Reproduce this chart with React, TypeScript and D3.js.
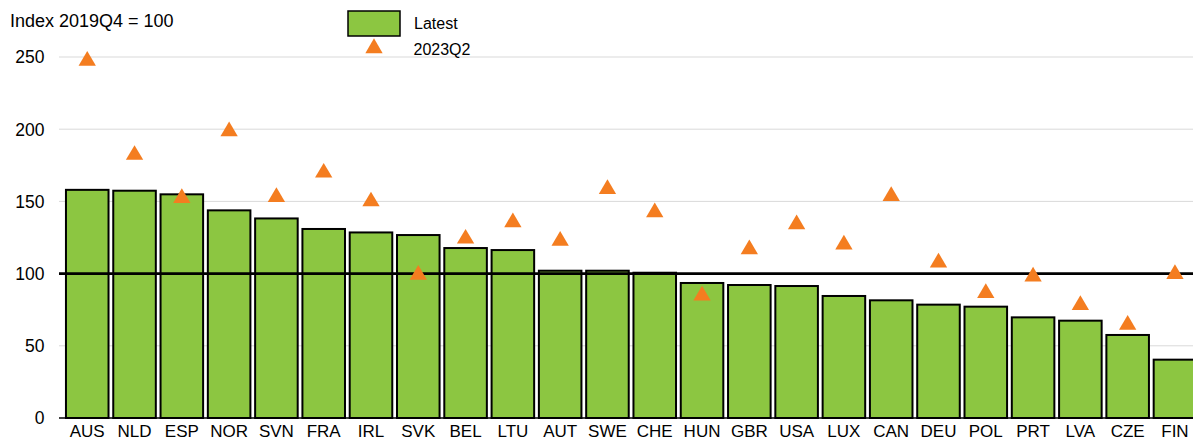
import React from "react";
import * as d3 from "d3";

const categories = ["AUS","NLD","ESP","NOR","SVN","FRA","IRL","SVK","BEL","LTU","AUT","SWE","CHE","HUN","GBR","USA","LUX","CAN","DEU","POL","PRT","LVA","CZE","FIN"];
const latest = [158,157.4,154.9,143.8,138.2,130.9,128.5,126.7,117.7,116.3,102,102,100.6,93.5,92.1,91.4,84.5,81.5,78.5,77.1,69.7,67.4,57.5,40.4];
const q2023 = [248.2,183,153.2,199.3,153.8,170.7,150.8,100,125,136.4,123.5,159.4,143.3,85.6,117.6,135,121,154.5,108.5,87.4,98.8,79,65.3,100.5];
const yTicks = [0,50,100,150,200,250];
const legendLabels = ["Latest","2023Q2"];
const yTitle = "Index 2019Q4 = 100";

const W = 1193, H = 440;
const GREEN = "#8CC641";
const ORANGE = "#F47D20";
const FONT = "Arial, 'Liberation Sans', sans-serif";

export default function App() {
  const x = d3.scaleBand<string>().domain(categories).range([63.6, 1198.6]).paddingInner(0.1).paddingOuter(0.05);
  const y = d3.scaleLinear().domain([0, 250]).range([418, 57]);
  const tri = d3.symbol().type(d3.symbolTriangle).size(130)();
  const plotLeft = 59;
  return (
    <svg width={W} height={H} style={{ position: "fixed", left: 0, top: 0, background: "#fff" }} fontFamily={FONT}>
      <rect width={W} height={H} fill="#fff" />
      {yTicks.filter(t => t !== 0 && t !== 100).map(t => (
        <line key={t} x1={plotLeft} x2={W} y1={y(t)} y2={y(t)} stroke="#d9d9d9" strokeWidth={1} />
      ))}
      {yTicks.map(t => (
        <text key={t} x={44.5} y={y(t)} dy="0.36em" textAnchor="end" fontSize={17.5} fill="#000">{t}</text>
      ))}
      <text x={10} y={27.3} fontSize={18} fill="#000">{yTitle}</text>
      {categories.map((c, i) => (
        <rect key={c} x={x(c)!} y={y(latest[i])} width={x.bandwidth()} height={y(0) - y(latest[i])}
          fill={GREEN} stroke="#000" strokeWidth={2} />
      ))}
      <line x1={plotLeft} x2={W} y1={y(100)} y2={y(100)} stroke="#000" strokeWidth={2.8} />
      <line x1={plotLeft} x2={W} y1={y(0)} y2={y(0)} stroke="#000" strokeWidth={1.5} />
      {categories.map((c, i) => {
        const cx = x(c)! + x.bandwidth() / 2;
        const cy = y(q2023[i]);
        return <path key={c} d={tri} transform={`translate(${cx},${cy + 1.2}) scale(1.0,0.98)`} fill={ORANGE} />;
      })}
      {categories.map(c => (
        <text key={c} x={x(c)! + x.bandwidth() / 2} y={437} textAnchor="middle" fontSize={17} fill="#000">{c}</text>
      ))}
      <rect x={348} y={11} width={52} height={25} fill={GREEN} stroke="#000" strokeWidth={1.5} />
      <text x={414} y={28.5} fontSize={16} fill="#000">{legendLabels[0]}</text>
      <path d={tri} transform={`translate(374,48.2)`} fill={ORANGE} />
      <text x={413.5} y={55} fontSize={16} fill="#000">{legendLabels[1]}</text>
    </svg>
  );
}
